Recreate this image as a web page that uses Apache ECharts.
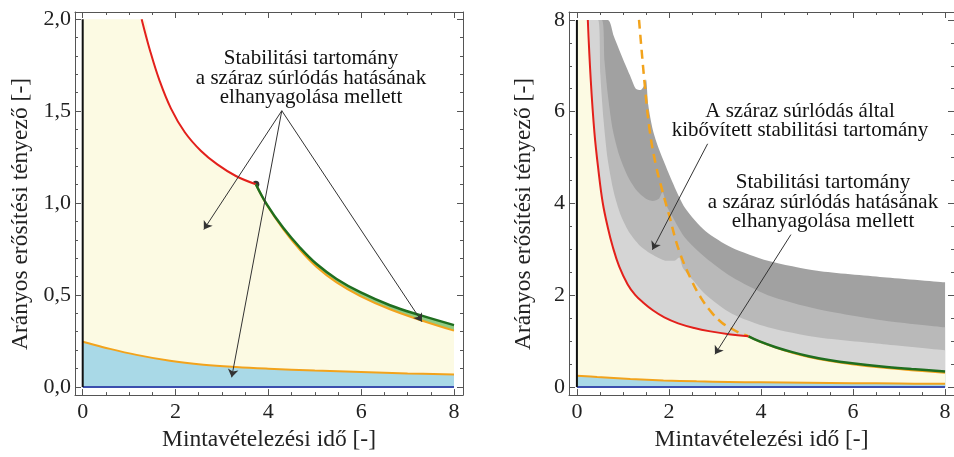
<!DOCTYPE html>
<html lang="hu">
<head>
  <meta charset="UTF-8">
  <title>Stabilitási tartomány</title>
  <style>
    html, body { margin: 0; padding: 0; background: #fff; }
    #main { width: 954px; height: 457px; }
  </style>
</head>
<body>
  <div id="main"></div>
  <script src="https://cdn.jsdelivr.net/npm/echarts@6/dist/echarts.min.js"></script>
  <script>
    // tick labels
    const xTicks = [0, 2, 4, 6, 8]
    const leftYTicks = [0, 0.5, 1, 1.5, 2]
    const rightYTicks = [0, 2, 4, 6, 8]

    // curves, [x, y]
    const redLeft = [[1.27, 2.0], [1.45, 1.83], [1.65, 1.67], [1.9, 1.515], [2.2, 1.385], [2.55, 1.283], [2.9, 1.21], [3.3, 1.147], [3.73, 1.102]]
    const redRight = [[0.237, 8], [0.3, 6.7], [0.38, 5.55], [0.47, 4.7], [0.56, 4.02], [0.67, 3.48], [0.78, 3.05], [0.92, 2.62], [1.1, 2.24], [1.27, 2.0], [1.45, 1.83], [1.65, 1.67], [1.9, 1.515], [2.2, 1.385], [2.55, 1.283], [2.9, 1.21], [3.3, 1.147], [3.73, 1.102]]
    const greenCurve = [[3.73, 1.102], [3.97, 0.991], [4.32, 0.865], [4.68, 0.758], [5.04, 0.668], [5.47, 0.587], [5.98, 0.515], [6.62, 0.444], [7.27, 0.390], [8.0, 0.336]]
    const orangeUpper = [[3.73, 1.102], [3.97, 0.989], [4.32, 0.858], [4.68, 0.745], [5.04, 0.652], [5.47, 0.568], [5.98, 0.494], [6.62, 0.422], [7.27, 0.364], [8.0, 0.306]]
    const orangeLower = [[0, 0.245], [0.44, 0.216], [1.16, 0.174], [1.88, 0.142], [2.6, 0.121], [3.3, 0.108], [4, 0.099], [5, 0.089], [6, 0.081], [7, 0.073], [8, 0.067]]
    const dashedOrange = [[1.35, 8], [1.47, 6.63], [1.58, 5.6], [1.71, 4.86], [1.85, 4.3], [2.0, 3.76], [2.21, 3.0], [2.5, 2.3], [2.71, 1.92], [2.93, 1.62], [3.15, 1.4], [3.36, 1.27], [3.55, 1.17], [3.73, 1.102]]
    const grayOuter = [[0.2, 8], [0.67, 8], [0.8, 7.65], [1.0, 7.15], [1.15, 6.8], [1.28, 6.5], [1.38, 6.47], [1.45, 6.55], [1.5, 6.7], [1.55, 6.15], [1.65, 5.6], [1.78, 5.19], [2.07, 4.48], [2.35, 3.9], [2.79, 3.4], [3.36, 3.04], [4.15, 2.75], [5.22, 2.53], [6.66, 2.39], [8, 2.28]]
    const grayMid = [[0.2, 8], [0.54, 8], [0.6, 7.1], [0.68, 6.3], [0.78, 5.6], [0.92, 5.05], [1.1, 4.6], [1.3, 4.28], [1.5, 4.1], [1.65, 4.05], [1.78, 4.1], [1.86, 4.25], [1.95, 3.95], [2.07, 3.72], [2.35, 3.25], [2.79, 2.82], [3.36, 2.4], [4.15, 2.0], [5.22, 1.7], [6.66, 1.45], [8, 1.3]]
    const grayInner = [[0.2, 8], [0.46, 8], [0.51, 6.8], [0.58, 5.8], [0.67, 4.95], [0.8, 4.25], [0.95, 3.75], [1.15, 3.35], [1.4, 3.05], [1.7, 2.85], [1.95, 2.75], [2.12, 2.75], [2.22, 2.82], [2.3, 2.6], [2.5, 2.35], [2.79, 2.02], [3.36, 1.6], [4.15, 1.3], [5.22, 1.08], [6.66, 0.93], [8, 0.8]]
    const dotLeft = [[3.73, 1.102]]
    const dotRight = [[3.73, 1.102]]

    const font = 'Liberation Serif'
    const frameColor = '#555'

    const minorOf = (from, to, step, major) => {
      const out = []
      for (let v = from; v <= to + 1e-9; v += step) {
        const r = Math.round(v * 100) / 100
        if (!major.some(m => Math.abs(m - r) < 1e-6)) out.push(r)
      }
      return out
    }

    // four frame sides, each with a major and a minor tick axis
    const makeAxes = (dim, grid, min, max, major, minor, name, nameGap, fmt) => {
      const sides = dim === 'x' ? ['bottom', 'top'] : ['left', 'right']
      const base = { type: 'value', gridIndex: grid, min: min, max: max, splitLine: { show: false } }
      const list = []
      sides.forEach((pos, i) => {
        list.push(Object.assign({}, base, {
          position: pos,
          name: i === 0 ? name : '',
          nameLocation: 'middle',
          nameGap: nameGap,
          nameTextStyle: { fontFamily: font, fontSize: 23.5, color: '#222' },
          axisLine: { show: true, onZero: false, lineStyle: { color: frameColor, width: 1 } },
          axisTick: { show: true, inside: true, length: 6, customValues: major, lineStyle: { color: frameColor } },
          axisLabel: { show: i === 0, customValues: major, formatter: fmt, fontFamily: font, fontSize: 22, color: '#222', margin: dim === 'x' ? 6 : 4 }
        }))
        list.push(Object.assign({}, base, {
          position: pos,
          axisLine: { show: false, onZero: false },
          axisTick: { show: true, inside: true, length: 3, customValues: minor, lineStyle: { color: frameColor } },
          axisLabel: { show: false }
        }))
      })
      return list
    }

    const plain = v => String(v)
    const comma = v => v.toFixed(1).replace('.', ',')
    const xTitle = 'Mintavételezési idő [-]'
    const yTitle = 'Arányos erősítési tényező [-]'

    const xAxis = [].concat(
      makeAxes('x', 0, -0.166, 8.194, xTicks, minorOf(0, 8, 0.5, xTicks), xTitle, 26, plain),
      makeAxes('x', 1, -0.172, 8.194, xTicks, minorOf(0, 8, 0.5, xTicks), xTitle, 26, plain)
    )
    const yAxis = [].concat(
      makeAxes('y', 0, -0.0447, 2.039, leftYTicks, minorOf(0, 2, 0.1, leftYTicks), '', 43, comma),
      makeAxes('y', 1, -0.179, 8.173, rightYTicks, minorOf(0, 8, 0.5, rightYTicks), '', 34, plain)
    )

    const area = (data, color, ax, sm) => ({
      type: 'line', data: data, xAxisIndex: ax, yAxisIndex: ax, showSymbol: false, smooth: sm === undefined ? 0.25 : sm,
      lineStyle: { width: 0 }, areaStyle: { color: color, opacity: 1 }, silent: true
    })
    const curve = (data, color, width, ax, extra) => Object.assign({
      type: 'line', data: data, xAxisIndex: ax, yAxisIndex: ax, showSymbol: false, smooth: 0.4,
      lineStyle: { color: color, width: width }, silent: true
    }, extra || {})
    const arrows = (pairs) => ({
      silent: true, symbol: ['none', 'arrow'], symbolSize: 8, label: { show: false },
      lineStyle: { color: '#333', width: 1, type: 'solid' },
      data: pairs.map(p => [{ coord: p[0] }, { coord: p[1] }])
    })

    const yellow = '#fcfae3'
    const blueFill = '#a9d9e7'
    const greenFill = '#8fcc84'

    // left panel, axes index 0
    const L = 0
    const leftYellow = [[0, 2], [1.27, 2]].concat(redLeft.slice(1), orangeUpper.slice(1))
    // right panel, axes index 4
    const R = 4
    const rightYellow = [[0, 8]].concat(redRight, orangeUpper.slice(1))

    const series = [
      area(greenCurve, greenFill, L, 0.4),
      area(leftYellow, yellow, L, 0.4),
      area(orangeLower, blueFill, L, 0.4),
      curve(redLeft, '#e3201b', 2, L),
      curve(orangeUpper, '#f2a31c', 2, L),
      curve(greenCurve, '#1f6e1f', 2.5, L),
      curve(orangeLower, '#f2a31c', 2, L),
      curve([[0, 0], [8, 0]], '#3b4fae', 2, L, { smooth: false }),
      curve([[0, 0], [0, 2]], '#111', 2, L, { smooth: false }),
      {
        type: 'scatter', data: dotLeft, xAxisIndex: L, yAxisIndex: L, symbolSize: 7,
        itemStyle: { color: '#000' }, silent: true,
        markLine: arrows([
          [[4.29, 1.502], [2.61, 0.856]],
          [[4.29, 1.502], [3.21, 0.052]],
          [[4.29, 1.502], [7.31, 0.354]]
        ])
      },

      area(grayOuter, '#a1a1a1', R),
      area(grayMid, '#b9b9b9', R),
      area(grayInner, '#d5d5d5', R),
      area(greenCurve, greenFill, R, 0.4),
      area(rightYellow, yellow, R, 0.4),
      area(orangeLower, blueFill, R, 0.4),
      curve(dashedOrange, '#f2a31c', 2.5, R, { lineStyle: { color: '#f2a31c', width: 2.5, type: [9, 6] } }),
      curve(redRight, '#e3201b', 2, R),
      curve(orangeUpper, '#f2a31c', 2, R),
      curve(greenCurve, '#1f6e1f', 2.5, R),
      curve(orangeLower, '#f2a31c', 2, R),
      curve([[0, 0], [8, 0]], '#3b4fae', 2, R, { smooth: false }),
      curve([[0, 0], [0, 8]], '#111', 2, R, { smooth: false }),
      {
        type: 'scatter', data: dotRight, xAxisIndex: R, yAxisIndex: R, symbolSize: 7,
        itemStyle: { color: '#000' }, silent: true,
        markLine: arrows([
          [[2.84, 5.30], [1.64, 2.99]],
          [[4.65, 3.32], [3.0, 0.71]]
        ])
      }
    ]

    const note = (text, x, y) => ({
      type: 'text', x: x, y: y, silent: true,
      style: { text: text, fontFamily: font, fontSize: 21, lineHeight: 19.5, fill: '#111', align: 'center', verticalAlign: 'middle' }
    })
    const sideTitle = (x, y) => ({
      type: 'text', x: x, y: y, rotation: Math.PI / 2, silent: true,
      style: { text: yTitle, fontFamily: font, fontSize: 23.5, fill: '#222', align: 'center', verticalAlign: 'middle' }
    })

    const chart = echarts.init(document.getElementById('main'))
    chart.setOption({
      animation: false,
      backgroundColor: '#fff',
      grid: [
        { left: 75, top: 12, width: 388, height: 387 },
        { left: 569, top: 12, width: 389, height: 387 }
      ],
      xAxis: xAxis,
      yAxis: yAxis,
      series: series,
      graphic: [
        sideTitle(21, 214),
        sideTitle(524, 214),
        note('Stabilitási tartomány\na száraz súrlódás hatásának\nelhanyagolása mellett', 311, 78),
        note('A száraz súrlódás által\nkibővített stabilitási tartomány', 800, 121),
        note('Stabilitási tartomány\na száraz súrlódás hatásának\nelhanyagolása mellett', 823, 202)
      ]
    })
  </script>
</body>
</html>
